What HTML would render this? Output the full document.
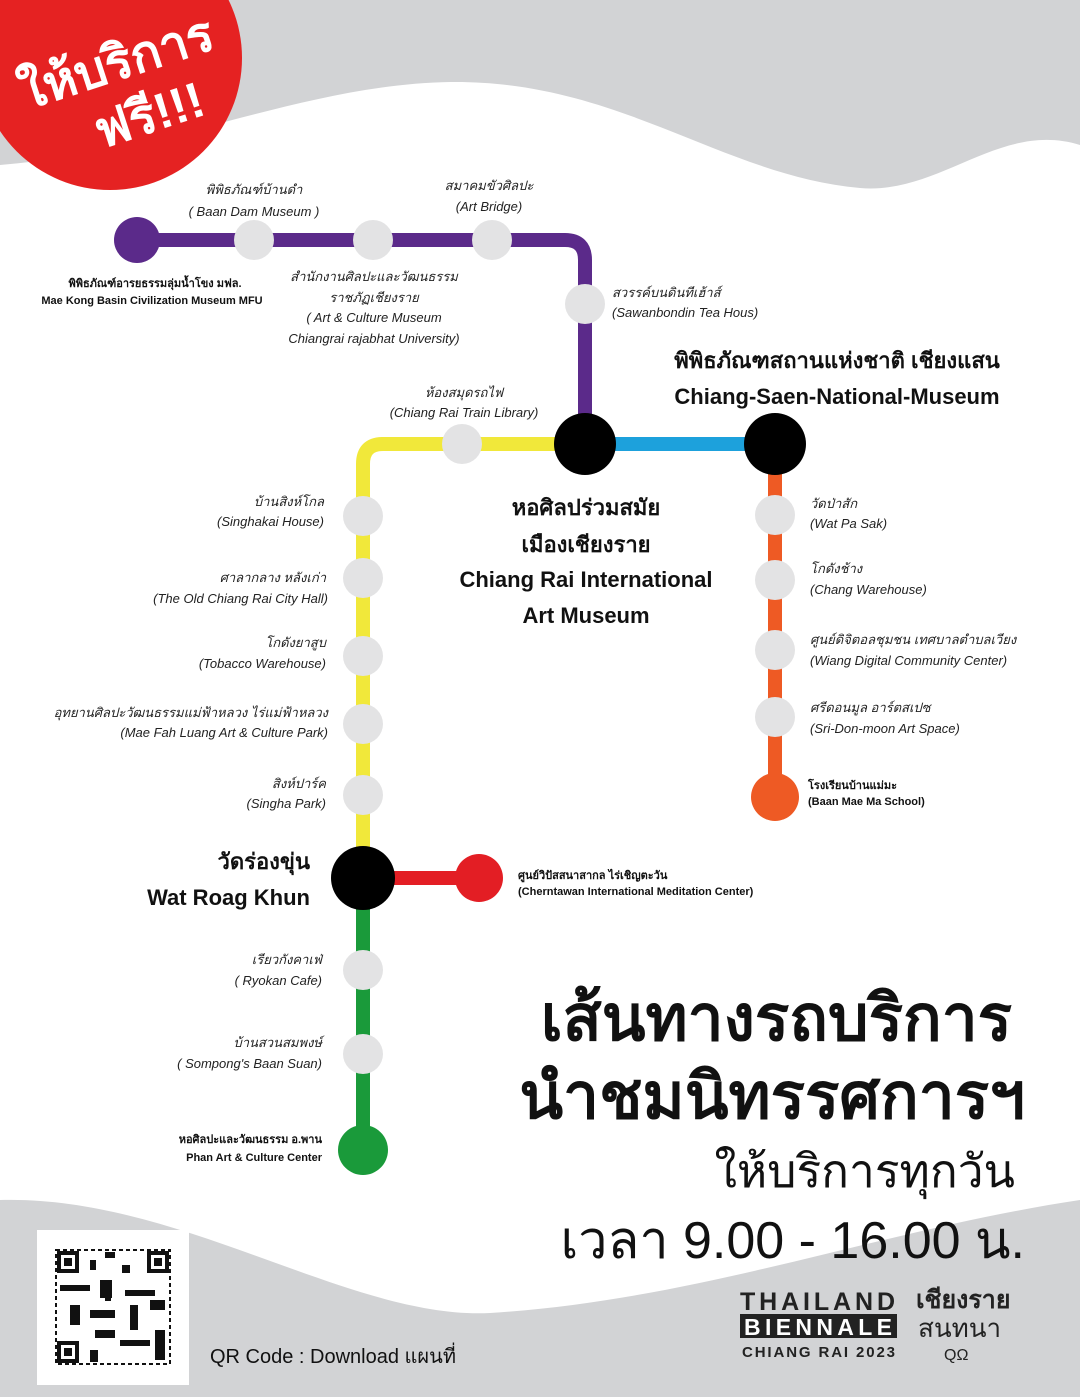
<!DOCTYPE html>
<html><head><meta charset="utf-8"><style>
html,body{margin:0;padding:0;background:#fff}
svg{display:block}
text{font-family:"Liberation Sans","DejaVu Sans",sans-serif}
.i{font-style:italic;font-size:13px;fill:#222}
.b{font-weight:bold;font-size:11px;fill:#111}
.h{font-weight:bold;font-size:22px;fill:#111}
</style></head><body>
<svg width="1080" height="1397" viewBox="0 0 1080 1397" xmlns="http://www.w3.org/2000/svg">
<rect width="1080" height="1397" fill="#fff"/>
<path d="M0 0H1080V145C1000 120 940 195 860 188C720 175 620 80 450 82C300 85 180 150 0 165Z" fill="#d2d3d5"/>
<path d="M0 1200C180 1195 350 1320 490 1313C700 1300 880 1230 1080 1200V1397H0Z" fill="#d2d3d5"/>
<circle cx="110" cy="58" r="132" fill="#e52222"/>
<g transform="rotate(-18 120 90)" fill="#fff" font-weight="bold">
<text x="125" y="80" font-size="50" text-anchor="middle">ให้บริการ</text>
<text x="140" y="140" font-size="50" text-anchor="middle">ฟรี!!!</text>
</g>
<g fill="none" stroke-width="14" stroke-linecap="butt">
<path d="M137 240H565Q585 240 585 260V444" stroke="#5b2a8a"/>
<path d="M585 444H775" stroke="#1da1dc"/>
<path d="M775 444V797" stroke="#ee5a24"/>
<path d="M585 444H383Q363 444 363 464V878" stroke="#f1e83a"/>
<path d="M363 878H479" stroke="#e31e24"/>
<path d="M363 878V1150" stroke="#1a9a3a"/>
</g>
<g fill="#e3e3e4">
<circle cx="254" cy="240" r="20"/><circle cx="373" cy="240" r="20"/><circle cx="492" cy="240" r="20"/>
<circle cx="585" cy="304" r="20"/><circle cx="462" cy="444" r="20"/>
<circle cx="775" cy="515" r="20"/><circle cx="775" cy="580" r="20"/><circle cx="775" cy="650" r="20"/><circle cx="775" cy="717" r="20"/>
<circle cx="363" cy="516" r="20"/><circle cx="363" cy="578" r="20"/><circle cx="363" cy="656" r="20"/><circle cx="363" cy="724" r="20"/><circle cx="363" cy="795" r="20"/>
<circle cx="363" cy="970" r="20"/><circle cx="363" cy="1054" r="20"/>
</g>
<circle cx="137" cy="240" r="23" fill="#5b2a8a"/>
<circle cx="585" cy="444" r="31" fill="#000"/>
<circle cx="775" cy="444" r="31" fill="#000"/>
<circle cx="775" cy="797" r="24" fill="#ee5a24"/>
<circle cx="363" cy="878" r="32" fill="#000"/>
<circle cx="479" cy="878" r="24" fill="#e31e24"/>
<circle cx="363" cy="1150" r="25" fill="#1a9a3a"/>

<g class="i" text-anchor="middle">
<text x="254" y="194" class="i">พิพิธภัณฑ์บ้านดำ</text>
<text x="254" y="216" class="i">( Baan Dam Museum )</text>
<text x="489" y="190" class="i">สมาคมขัวศิลปะ</text>
<text x="489" y="211" class="i">(Art Bridge)</text>
<text x="374" y="281" class="i">สำนักงานศิลปะและวัฒนธรรม</text>
<text x="374" y="302" class="i">ราชภัฏเชียงราย</text>
<text x="374" y="322" class="i">( Art &amp; Culture Museum</text>
<text x="374" y="343" class="i">Chiangrai rajabhat University)</text>
<text x="464" y="397" class="i">ห้องสมุดรถไฟ</text>
<text x="464" y="417" class="i">(Chiang Rai Train Library)</text>
</g>
<g text-anchor="middle">
<text x="155" y="287" class="b">พิพิธภัณฑ์อารยธรรมลุ่มน้ำโขง มฟล.</text>
<text x="152" y="304" class="b">Mae Kong Basin Civilization Museum MFU</text>
</g>
<text x="612" y="297" class="i">สวรรค์บนดินทีเฮ้าส์</text>
<text x="612" y="317" class="i">(Sawanbondin Tea Hous)</text>
<g text-anchor="end" class="i">
<text x="324" y="506" class="i">บ้านสิงห์โกล</text><text x="324" y="526" class="i">(Singhakai House)</text>
<text x="326" y="582" class="i">ศาลากลาง หลังเก่า</text><text x="328" y="603" class="i">(The Old Chiang Rai City Hall)</text>
<text x="326" y="647" class="i">โกดังยาสูบ</text><text x="326" y="668" class="i">(Tobacco Warehouse)</text>
<text x="328" y="717" class="i">อุทยานศิลปะวัฒนธรรมแม่ฟ้าหลวง ไร่แม่ฟ้าหลวง</text><text x="328" y="737" class="i">(Mae Fah Luang Art &amp; Culture Park)</text>
<text x="326" y="788" class="i">สิงห์ปาร์ค</text><text x="326" y="808" class="i">(Singha Park)</text>
<text x="322" y="964" class="i">เรียวกังคาเฟ่</text><text x="322" y="985" class="i">( Ryokan Cafe)</text>
<text x="322" y="1047" class="i">บ้านสวนสมพงษ์</text><text x="322" y="1068" class="i">( Sompong's Baan Suan)</text>
</g>
<g class="i">
<text x="810" y="508" class="i">วัดป่าสัก</text><text x="810" y="528" class="i">(Wat Pa Sak)</text>
<text x="810" y="573" class="i">โกดังช้าง</text><text x="810" y="594" class="i">(Chang Warehouse)</text>
<text x="810" y="644" class="i">ศูนย์ดิจิตอลชุมชน เทศบาลตำบลเวียง</text><text x="810" y="665" class="i">(Wiang Digital Community Center)</text>
<text x="810" y="712" class="i">ศรีดอนมูล อาร์ตสเปซ</text><text x="810" y="733" class="i">(Sri-Don-moon Art Space)</text>
</g>
<text x="808" y="789" class="b">โรงเรียนบ้านแม่มะ</text>
<text x="808" y="805" class="b">(Baan Mae Ma School)</text>
<text x="518" y="879" class="b">ศูนย์วิปัสสนาสากล ไร่เชิญตะวัน</text>
<text x="518" y="895" class="b">(Cherntawan International Meditation Center)</text>
<g text-anchor="end">
<text x="322" y="1143" class="b">หอศิลปะและวัฒนธรรม อ.พาน</text>
<text x="322" y="1161" class="b">Phan Art &amp; Culture Center</text>
</g>
<g text-anchor="middle">
<text x="837" y="368" class="h">พิพิธภัณฑสถานแห่งชาติ เชียงแสน</text>
<text x="837" y="404" class="h">Chiang-Saen-National-Museum</text>
<text x="586" y="515" class="h">หอศิลปร่วมสมัย</text>
<text x="586" y="552" class="h">เมืองเชียงราย</text>
<text x="586" y="587" class="h">Chiang Rai International</text>
<text x="586" y="623" class="h">Art Museum</text>
</g>
<g text-anchor="end" class="h">
<text x="310" y="869" class="h">วัดร่องขุ่น</text>
<text x="310" y="905" class="h">Wat Roag Khun</text>
</g>
<g text-anchor="end" fill="#111" font-weight="bold">
<text x="1012" y="1040" font-size="64">เส้นทางรถบริการ</text>
<text x="1025" y="1118" font-size="64">นำชมนิทรรศการฯ</text>
</g>
<g text-anchor="end" fill="#111">
<text x="1015" y="1187" font-size="46">ให้บริการทุกวัน</text>
<text x="1025" y="1258" font-size="52">เวลา 9.00 - 16.00 น.</text>
</g>
<rect x="37" y="1230" width="152" height="155" fill="#fff"/>
<g fill="#111">
<rect x="56" y="1250" width="114" height="114" fill="none" stroke="#111" stroke-width="2" stroke-dasharray="4 3"/>
<rect x="57" y="1251" width="22" height="22"/><rect x="61" y="1255" width="14" height="14" fill="#fff"/><rect x="64" y="1258" width="8" height="8"/>
<rect x="147" y="1251" width="22" height="22"/><rect x="151" y="1255" width="14" height="14" fill="#fff"/><rect x="154" y="1258" width="8" height="8"/>
<rect x="57" y="1341" width="22" height="22"/><rect x="61" y="1345" width="14" height="14" fill="#fff"/><rect x="64" y="1348" width="8" height="8"/>
<rect x="90" y="1260" width="6" height="10"/><rect x="105" y="1252" width="10" height="6"/><rect x="122" y="1265" width="8" height="8"/>
<rect x="60" y="1285" width="30" height="6"/><rect x="100" y="1280" width="12" height="18"/><rect x="125" y="1290" width="30" height="6"/>
<rect x="70" y="1305" width="10" height="20"/><rect x="90" y="1310" width="25" height="8"/><rect x="130" y="1305" width="8" height="25"/>
<rect x="150" y="1300" width="15" height="10"/><rect x="95" y="1330" width="20" height="8"/><rect x="120" y="1340" width="30" height="6"/>
<rect x="90" y="1350" width="8" height="12"/><rect x="155" y="1330" width="10" height="30"/><rect x="105" y="1295" width="6" height="6"/>
</g>
<text x="210" y="1363" font-size="20" fill="#111">QR Code : Download แผนที่</text>
<g font-weight="bold" fill="#222">
<text x="740" y="1310" font-size="25" textLength="155">THAILAND</text>
<rect x="740" y="1314" width="157" height="24" fill="#222"/>
<text x="744" y="1335" font-size="23" fill="#fff" textLength="148">BIENNALE</text>
<text x="742" y="1357" font-size="15" textLength="153">CHIANG RAI 2023</text>
<text x="916" y="1308" font-size="25">เชียงราย</text>
</g>
<text x="918" y="1337" font-size="26" fill="#222">สนทนา</text>
<text x="944" y="1360" font-size="16" fill="#222">QΩ</text>
</svg>
</body></html>
